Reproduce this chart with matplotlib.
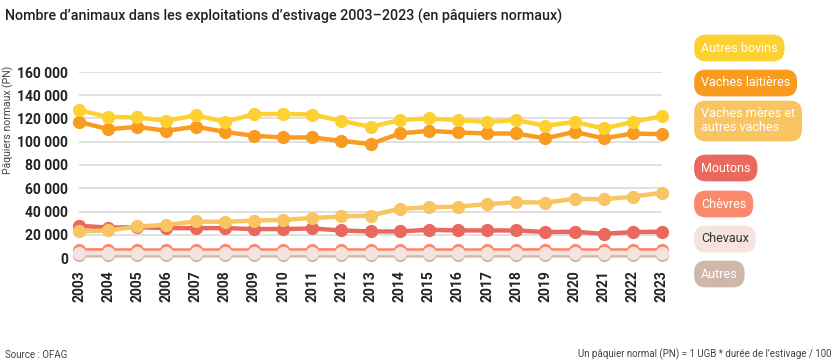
import matplotlib
matplotlib.use("Agg")
import matplotlib.pyplot as plt

years = list(range(2003, 2024))

autres_bovins = [127100, 121400, 120900, 118000, 122800, 117100, 123700, 124000, 123400, 118000, 112800,
                 118600, 120000, 118600, 117100, 118600, 113700, 117100, 111400, 117100, 122000]
vaches_laitieres = [117100, 110800, 112800, 109400, 113000, 108500, 105100, 103700, 103700, 100800, 98000,
                    107100, 109400, 108000, 107100, 107100, 102900, 108500, 102900, 107100, 106500]
vaches_meres = [22800, 23700, 27100, 28500, 31400, 31100, 32200, 32800, 34300, 35700, 36500,
                42300, 43700, 44200, 46300, 48000, 47700, 50800, 50500, 52800, 56200]
moutons = [27700, 26200, 26500, 25700, 25700, 25700, 24900, 24900, 25400, 23700, 22800,
           22800, 24300, 23700, 23700, 23700, 22300, 22600, 20800, 22300, 22600]
chevres = [6600, 6600, 6500, 6500, 6500, 6500, 6500, 6500, 6600, 6600, 6500,
           6500, 6500, 6500, 6500, 6600, 6600, 6500, 6500, 6600, 6600]
chevaux = [4300, 4300, 4300, 4300, 4300, 4300, 4300, 4300, 4300, 4300, 4300,
           4300, 4300, 4300, 4300, 4300, 4300, 4300, 4300, 4300, 4300]
autres = [2200, 2200, 2200, 2200, 2200, 2200, 2200, 2200, 2200, 2200, 2200,
          2200, 2200, 2200, 2200, 2200, 2200, 2200, 2200, 2200, 2200]

labels = ["Autres bovins", "Vaches laitières", "Vaches mères et\nautres vaches",
          "Moutons", "Chèvres", "Chevaux", "Autres"]
series = [autres_bovins, vaches_laitieres, vaches_meres, moutons, chevres, chevaux, autres]
colors = ["#FDD131", "#F99B1E", "#F9C562", "#E9695E", "#F98A6E", "#F5E3DD", "#CFB8AA"]
zorders = [7, 6, 5, 4, 3, 3.5, 2]
text_colors = ["white"] * 5 + ["#333333", "white"]

plt.rcParams['font.family'] = ['Roboto', 'DejaVu Sans']

fig = plt.figure(figsize=(8.36, 3.64), dpi=100)
ax = fig.add_axes([79 / 836, 1 - 258 / 364, (662 - 79) / 836, (258 - 72) / 364])

for vals, c, z in zip(series, colors, zorders):
    ax.plot(years, vals, color=c, lw=3.2, marker='o', ms=8.5, zorder=z, clip_on=False)

ax.set_xlim(2003, 2023)
ax.set_ylim(0, 160000)
ax.set_yticks(range(0, 160001, 20000))
ax.set_yticklabels([f"{v:,}".replace(",", " ") for v in range(0, 160001, 20000)],
                   fontsize=10, fontweight='bold', color='#222222')
ax.set_xticks(years)
ax.set_xticklabels([str(y) for y in years], rotation=90, fontsize=10,
                   fontweight='bold', color='#222222')
ax.tick_params(axis='y', length=0, pad=8)
ax.tick_params(axis='x', length=0, pad=9)
ax.grid(axis='y', color='#dddddd', lw=1.3, zorder=0)
ax.set_axisbelow(True)
for s in ax.spines.values():
    s.set_visible(False)

ax.set_ylabel("Pâquiers normaux (PN)", fontsize=7.5, color='#444444')
ax.yaxis.set_label_coords(-0.112, 0.74)

fig.text(0.006, 0.975, "Nombre d\u2019animaux dans les exploitations d\u2019estivage 2003\u20132023 (en pâquiers normaux)",
         fontsize=10.3, fontweight='medium', color='#222222', va='top', ha='left')

fig.text(0.006, 0.012, "Source : OFAG", fontsize=7, color='#444444', va='bottom')
fig.text(0.995, 0.012, "Un pâquier normal (PN) = 1 UGB * durée de l\u2019estivage / 100",
         fontsize=7, color='#444444', va='bottom', ha='right')

leg_y = [48, 83, 121, 168, 204, 239, 274]
for lab, c, tc, y in zip(labels, colors, text_colors, leg_y):
    fig.text(701 / 836, 1 - y / 364, lab, fontsize=9, color=tc, va='center', ha='left',
             linespacing=1.1,
             bbox=dict(boxstyle='round,pad=0.55,rounding_size=0.95', fc=c, ec='none'))

fig.savefig("out.png", dpi=100)
